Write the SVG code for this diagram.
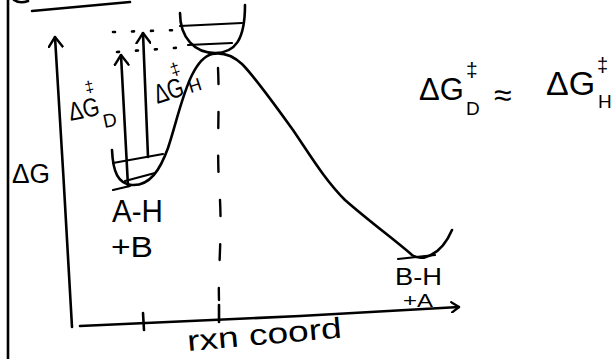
<svg xmlns="http://www.w3.org/2000/svg" width="615" height="359" viewBox="0 0 615 359">
<style>
.ln{fill:none;stroke:#000;stroke-width:2.6;stroke-linecap:round;stroke-linejoin:round}
.thin{fill:none;stroke:#000;stroke-width:2.2;stroke-linecap:round}
.dot{fill:none;stroke:#000;stroke-width:2.6;stroke-linecap:round;stroke-dasharray:2 17}
.dash{fill:none;stroke:#000;stroke-width:2.4;stroke-linecap:round;stroke-dasharray:16 28}
.t{font-family:"Liberation Sans","DejaVu Sans",sans-serif;fill:#000}
</style>
<defs>
<marker id="head" viewBox="0 0 12 16" refX="11" refY="8" markerWidth="12" markerHeight="16" markerUnits="userSpaceOnUse" orient="auto">
<path d="M1,1 L11,8 L1,15" fill="none" stroke="#000" stroke-width="2.4" stroke-linecap="round" stroke-linejoin="round"/>
</marker>
<marker id="headS" viewBox="0 0 12 16" refX="11" refY="8" markerWidth="9" markerHeight="12" markerUnits="userSpaceOnUse" orient="auto">
<path d="M1,1 L11,8 L1,15" fill="none" stroke="#000" stroke-width="3" stroke-linecap="round" stroke-linejoin="round"/>
</marker>
</defs>
<rect width="615" height="359" fill="#fff"/>
<g id="frame">
<path class="ln" d="M8,0 L8,359"/>
<path class="ln" d="M14,0 Q20,4 28,1"/>
<path class="ln" d="M32,11 L130,2"/>
</g>
<g id="axes">
<path class="ln" d="M72,327 C68,250 60,120 55,37" marker-end="url(#head)"/>
<path class="ln" d="M80,326 L300,316 L459,307" marker-end="url(#headS)"/>
<path class="ln" d="M143,313 L144,330"/>
<path class="ln" d="M219,305 L219,322"/>
<path class="dash" d="M218,68 C220,110 216,150 220,200 C222,240 218,270 219,300"/>
<text class="t" x="12" y="183" font-size="27" textLength="38" lengthAdjust="spacingAndGlyphs">ΔG</text>
<text class="t" x="188" y="351" font-size="29" textLength="155" lengthAdjust="spacingAndGlyphs" transform="rotate(-5 188 351)">rxn coord</text>
</g>
<g id="profile">
<path class="ln" d="M112,150 C113,172 118,184 132,185 C150,186 160,170 168,148 C176,124 182,95 192,75 C198,63 204,56 212,54 C222,52 232,55 242,64 C255,77 275,105 293,130 C310,155 325,180 345,200 C370,222 395,240 412,255 C420,261 440,258 452,230"/>
</g>
<g id="well-AH">
<path class="thin" d="M113,163 L163,154"/>
<path class="thin" d="M125,181 L155,173"/>
<path class="thin" d="M113,190 L130,186"/>
<text class="t" x="112" y="222" font-size="31" textLength="51" lengthAdjust="spacingAndGlyphs">A-H</text>
<text class="t" x="111" y="257" font-size="30" textLength="42" lengthAdjust="spacingAndGlyphs">+B</text>
</g>
<g id="transition-state">
<path class="ln" d="M180,13 C180,38 195,53 215,53 C235,53 245,40 245,5"/>
<path class="thin" d="M180,26 L242,23"/>
<path class="thin" d="M188,45 L232,43"/>
<path class="dot" d="M113,32 L180,30"/>
<path class="dot" d="M117,52 L188,47"/>
</g>
<g id="well-BH">
<path class="thin" d="M398,259 L435,255"/>
<text class="t" x="395" y="285" font-size="24" textLength="47" lengthAdjust="spacingAndGlyphs">B-H</text>
<text class="t" x="403" y="307" font-size="18" textLength="30" lengthAdjust="spacingAndGlyphs">+A</text>
</g>
<g id="connectors">
<path class="ln" d="M128,186 L121,55" marker-end="url(#head)"/>
<path class="ln" d="M148,157 L143,33" marker-end="url(#head)"/>
</g>
<g id="label-D">
<text class="t" font-size="26" transform="rotate(-12 83 108)"><tspan x="68" y="118" textLength="31" lengthAdjust="spacingAndGlyphs">ΔG</tspan><tspan x="89" y="94" font-size="16">‡</tspan><tspan x="100" y="132" font-size="19">D</tspan></text>
</g>
<g id="label-H">
<text class="t" font-size="27" transform="rotate(-18 168 89)"><tspan x="153" y="100" textLength="30" lengthAdjust="spacingAndGlyphs">ΔG</tspan><tspan x="176" y="78" font-size="17">‡</tspan><tspan x="188" y="100" font-size="18">H</tspan></text>
</g>
<g id="equation">
<text class="t" x="419" y="100" font-size="31">ΔG</text>
<text class="t" x="466" y="77" font-size="21">‡</text>
<text class="t" x="466" y="115" font-size="19">D</text>
<text class="t" x="494" y="106" font-size="32">≈</text>
<text class="t" x="546" y="95" font-size="34">ΔG</text>
<text class="t" x="597" y="72" font-size="20">‡</text>
<text class="t" x="598" y="108" font-size="19">H</text>
</g>
</svg>
